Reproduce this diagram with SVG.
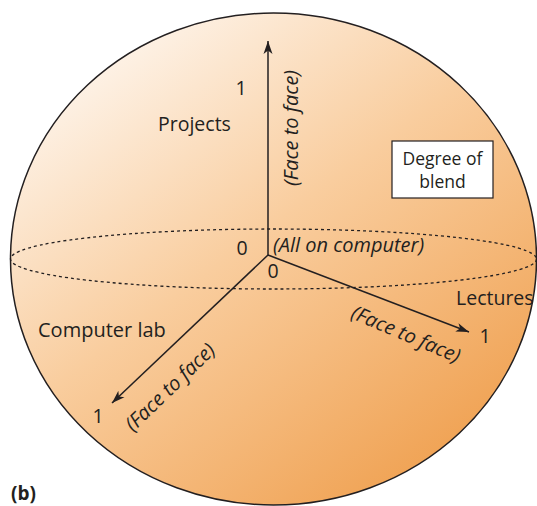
<svg xmlns="http://www.w3.org/2000/svg" width="537" height="506" viewBox="0 0 537 506">
<defs>
<linearGradient id="sph" gradientUnits="userSpaceOnUse" x1="120" y1="10" x2="470" y2="480">
<stop offset="0" stop-color="#fef7f0"/>
<stop offset="0.45" stop-color="#f9cd9e"/>
<stop offset="1" stop-color="#ef9e4c"/>
</linearGradient>
<marker id="ah" markerUnits="userSpaceOnUse" markerWidth="14" markerHeight="10" refX="13" refY="5" orient="auto">
<path d="M0,0.5 L13,5 L0,9.5 L3.5,5 z" fill="#231f20"/>
</marker>
<style>
.t{font-family:"Open Sans","Noto Sans",sans-serif;font-size:19.5px;fill:#231f20}
.i{font-style:italic;font-size:20px}
.ax{stroke:#231f20;stroke-width:1.5;fill:none;marker-end:url(#ah)}
</style>
</defs>
<g id="sphere">
<ellipse cx="273.5" cy="259" rx="263" ry="246" fill="url(#sph)" stroke="#231f20" stroke-width="1.5"/>
<ellipse cx="273.5" cy="259" rx="263" ry="30" fill="none" stroke="#231f20" stroke-width="1.3" stroke-dasharray="3,3"/>
</g>
<g id="connectors">
<line class="ax" x1="268" y1="255" x2="268" y2="41"/>
<line class="ax" x1="268" y1="255" x2="469" y2="332"/>
<line class="ax" x1="268" y1="255" x2="112" y2="403"/>
</g>
<g id="projects">
<text class="t" x="241" y="95" text-anchor="middle">1</text>
<text class="t" x="158" y="131">Projects</text>
<text class="t i" transform="translate(291,128) rotate(-90)" x="0" y="7" text-anchor="middle">(Face to face)</text>
</g>
<g id="origin">
<text class="t" x="242" y="255" text-anchor="middle">0</text>
<text class="t i" x="273" y="252">(All on computer)</text>
<text class="t" x="273" y="278" text-anchor="middle">0</text>
</g>
<g id="lectures">
<text class="t" x="456" y="305">Lectures</text>
<text class="t" x="485" y="343" text-anchor="middle">1</text>
<text class="t i" transform="translate(406,334) rotate(23)" x="0" y="7" text-anchor="middle">(Face to face)</text>
</g>
<g id="computer-lab">
<text class="t" x="38" y="337" style="font-size:20px">Computer lab</text>
<text class="t" x="98" y="423" text-anchor="middle">1</text>
<text class="t i" transform="translate(170,387) rotate(-44)" x="0" y="7" text-anchor="middle">(Face to face)</text>
</g>
<g id="degree-of-blend">
<rect x="392" y="141" width="101" height="57" fill="#ffffff" stroke="#231f20" stroke-width="1.2"/>
<text class="t" x="442.5" y="165" text-anchor="middle" style="font-size:17.5px">Degree of</text>
<text class="t" x="442.5" y="188" text-anchor="middle" style="font-size:17.5px">blend</text>
</g>
<text class="t" x="11" y="500" style="font-weight:bold;font-size:19px">(b)</text>
</svg>
